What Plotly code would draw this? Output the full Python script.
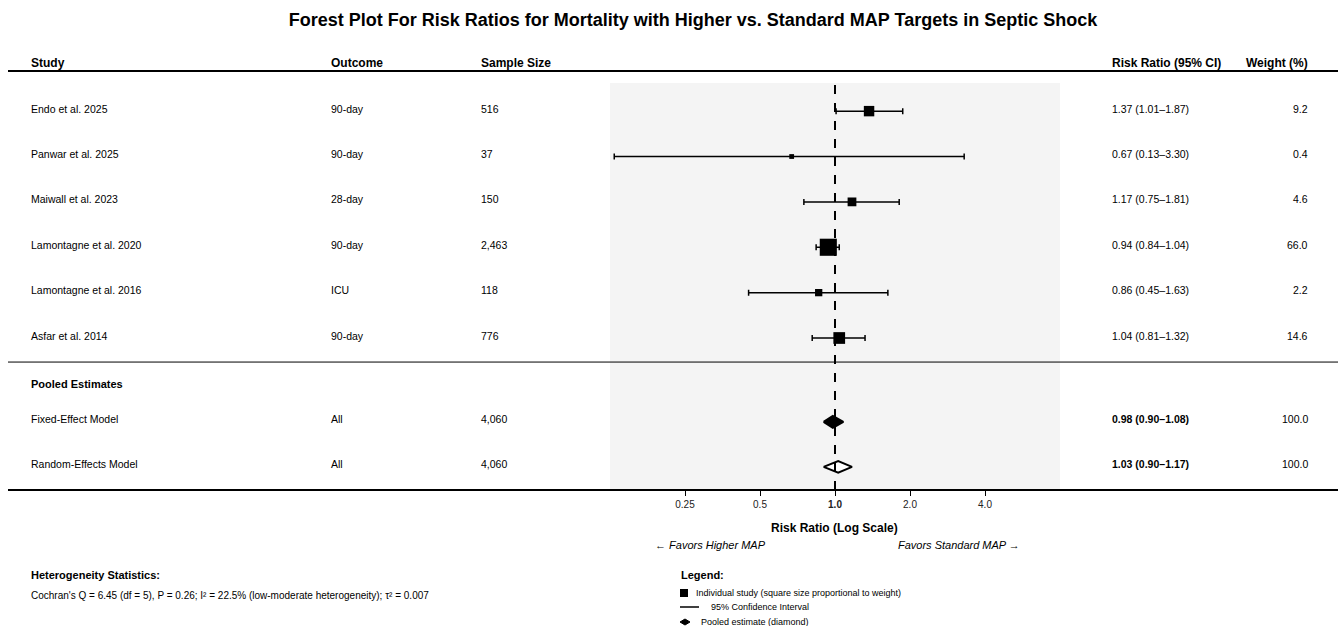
import numpy as np
import plotly.graph_objects as go

# ---- data ----
studies = ["Endo et al. 2025", "Panwar et al. 2025", "Maiwall et al. 2023",
           "Lamontagne et al. 2020", "Lamontagne et al. 2016", "Asfar et al. 2014"]
outcomes = ["90-day", "90-day", "28-day", "90-day", "ICU", "90-day"]
sample_sizes = ["516", "37", "150", "2,463", "118", "776"]
rr = [1.37, 0.67, 1.17, 0.94, 0.86, 1.04]
ci_low = [1.01, 0.13, 0.75, 0.84, 0.45, 0.81]
ci_high = [1.87, 3.30, 1.81, 1.04, 1.63, 1.32]
weights = [9.2, 0.4, 4.6, 66.0, 2.2, 14.6]

pooled_models = ["Fixed-Effect Model", "Random-Effects Model"]
pooled_outcomes = ["All", "All"]
pooled_sizes = ["4,060", "4,060"]
pooled_rr = [0.98, 1.03]
pooled_low = [0.90, 0.90]
pooled_high = [1.08, 1.17]
pooled_weights = [100.0, 100.0]

tick_vals = [0.25, 0.5, 1.0, 2.0, 4.0]
tick_text = ["0.25", "0.5", "<b>1.0</b>", "2.0", "4.0"]

# ---- layout helpers ----
W, H = 1338, 626
FONT = "Liberation Sans, Arial, Helvetica, sans-serif"


def px(x):
    return x / W


def py(y):
    return 1 - y / H


study_rows = list(range(len(studies)))
pooled_header_row = 6.01
pooled_rows = [6.85, 7.84]
separator_row = 5.53
y_range = [8.35, -0.62]

col_study, col_outcome, col_n, col_rr, col_w = 29, 329, 479, 1110, 1310
ROW_SIZE = 10.5
HEAD_SIZE = 12

fig = go.Figure()

# individual studies: squares scaled with weight, with 95% CI whiskers
marker_sizes = [6 * w ** 0.25 for w in weights]
fig.add_trace(go.Scatter(
    x=rr, y=study_rows, mode="markers",
    marker=dict(symbol="square", size=marker_sizes, color="black", opacity=1,
                line=dict(width=0)),
    error_x=dict(type="data", symmetric=False,
                 array=[h - e for h, e in zip(ci_high, rr)],
                 arrayminus=[e - l for e, l in zip(rr, ci_low)],
                 color="black", thickness=1.5, width=3),
    showlegend=False, hoverinfo="skip",
))

# pooled estimates: diamonds spanning the CI
half_h = 0.13
for i, (est, lo, hi, row) in enumerate(zip(pooled_rr, pooled_low, pooled_high, pooled_rows)):
    filled = i == 0
    fig.add_trace(go.Scatter(
        x=[lo, est, hi, est, lo],
        y=[row, row - half_h, row, row + half_h, row],
        mode="lines", fill="toself",
        fillcolor="black" if filled else "white",
        line=dict(color="black", width=2),
        showlegend=False, hoverinfo="skip",
    ))

shapes = []
# null effect line
shapes.append(dict(type="line", xref="x", yref="y domain", x0=1, x1=1, y0=0, y1=1,
                   line=dict(color="black", width=2, dash="dash"), layer="above"))
# horizontal rules
shapes.append(dict(type="line", xref="paper", yref="paper", x0=px(8), x1=1,
                   y0=py(71), y1=py(71), line=dict(color="black", width=2)))
shapes.append(dict(type="line", xref="paper", yref="y", x0=px(8), x1=1,
                   y0=separator_row, y1=separator_row, line=dict(color="black", width=1)))
shapes.append(dict(type="line", xref="paper", yref="paper", x0=px(8), x1=1,
                   y0=py(490), y1=py(490), line=dict(color="black", width=2)))

annotations = []


def text(x, y, s, yref="paper", size=ROW_SIZE, anchor="left", bold=False, italic=False,
         yshift=0):
    if bold:
        s = f"<b>{s}</b>"
    if italic:
        s = f"<i>{s}</i>"
    annotations.append(dict(
        x=px(x), y=y, xref="paper", yref=yref, text=s, showarrow=False,
        xanchor=anchor, yanchor="middle", yshift=yshift,
        font=dict(family=FONT, size=size, color="black"),
    ))


# column headers
hy = py(63)
text(col_study, hy, "Study", size=HEAD_SIZE, bold=True)
text(col_outcome, hy, "Outcome", size=HEAD_SIZE, bold=True)
text(col_n, hy, "Sample Size", size=HEAD_SIZE, bold=True)
text(col_rr, hy, "Risk Ratio (95% CI)", size=HEAD_SIZE, bold=True)
text(col_w, hy, "Weight (%)", size=HEAD_SIZE, bold=True, anchor="right")

# study rows
for row, s, o, n, e, lo, hi, w in zip(study_rows, studies, outcomes, sample_sizes,
                                      rr, ci_low, ci_high, weights):
    text(col_study, row, s, yref="y", yshift=2.5)
    text(col_outcome, row, o, yref="y", yshift=2.5)
    text(col_n, row, n, yref="y", yshift=2.5)
    text(col_rr, row, f"{e:.2f} ({lo:.2f}\u2013{hi:.2f})", yref="y", yshift=2.5)
    text(col_w, row, f"{w:.1f}", yref="y", anchor="right", yshift=2.5)

# pooled rows
text(col_study, pooled_header_row, "Pooled Estimates", yref="y", size=11, bold=True)
for row, m, o, n, e, lo, hi, w in zip(pooled_rows, pooled_models, pooled_outcomes,
                                      pooled_sizes, pooled_rr, pooled_low, pooled_high,
                                      pooled_weights):
    text(col_study, row, m, yref="y", yshift=2.5)
    text(col_outcome, row, o, yref="y", yshift=2.5)
    text(col_n, row, n, yref="y", yshift=2.5)
    text(col_rr, row, f"{e:.2f} ({lo:.2f}\u2013{hi:.2f})", yref="y", bold=True, yshift=2.5)
    text(col_w, row, f"{w:.1f}", yref="y", anchor="right", yshift=2.5)

# axis title and direction labels
text(834, py(528), "Risk Ratio (Log Scale)", size=12, bold=True, anchor="center")
text(710, py(545), "\u2190 Favors Higher MAP", size=11, italic=True, anchor="center")
text(959, py(545), "Favors Standard MAP \u2192", size=11, italic=True, anchor="center")

# heterogeneity statistics
text(29, py(575), "Heterogeneity Statistics:", size=11, bold=True)
text(29, py(595), "Cochran's Q = 6.45 (df = 5), P = 0.26; I\u00b2 = 22.5% "
     "(low-moderate heterogeneity); \u03c4\u00b2 = 0.007", size=10)

# legend block
text(679, py(575), "Legend:", size=11, bold=True)
text(694, py(593), "Individual study (square size proportional to weight)", size=9)
text(709, py(607), "95% Confidence Interval", size=9)
text(699, py(622), "Pooled estimate (diamond)", size=9)
shapes.append(dict(type="rect", xref="paper", yref="paper",
                   x0=px(680), x1=px(688), y0=py(597), y1=py(589),
                   fillcolor="black", line=dict(width=0)))
shapes.append(dict(type="line", xref="paper", yref="paper",
                   x0=px(680), x1=px(699), y0=py(607), y1=py(607),
                   line=dict(color="black", width=1.5)))
shapes.append(dict(type="path", xref="paper", yref="paper",
                   path=f"M {px(680)} {py(622)} L {px(685)} {py(619)} L {px(690)} {py(622)} "
                        f"L {px(685)} {py(625)} Z",
                   fillcolor="black", line=dict(color="black", width=1)))

fig.update_layout(
    width=W, height=H,
    margin=dict(l=0, r=0, t=0, b=0),
    paper_bgcolor="white",
    plot_bgcolor="#f4f4f4",
    title=dict(text="<b>Forest Plot For Risk Ratios for Mortality with Higher vs. Standard MAP Targets in Septic Shock</b>",
               x=px(693), xanchor="center", y=py(20), yanchor="middle",
               font=dict(family=FONT, size=18, color="black")),
    xaxis=dict(type="log", domain=[px(610), px(1060)],
               range=[np.log10(0.125), np.log10(8)],
               tickvals=tick_vals, ticktext=tick_text,
               ticks="outside", ticklen=5, tickcolor="black", tickwidth=1,
               tickfont=dict(family=FONT, size=10, color="#222"),
               showgrid=False, zeroline=False, showline=False, fixedrange=True),
    yaxis=dict(domain=[py(490), py(83)], range=y_range,
               showgrid=False, zeroline=False, showticklabels=False,
               showline=False, fixedrange=True),
    shapes=shapes,
    annotations=annotations,
    font=dict(family=FONT),
)

fig.write_html("out.html")
